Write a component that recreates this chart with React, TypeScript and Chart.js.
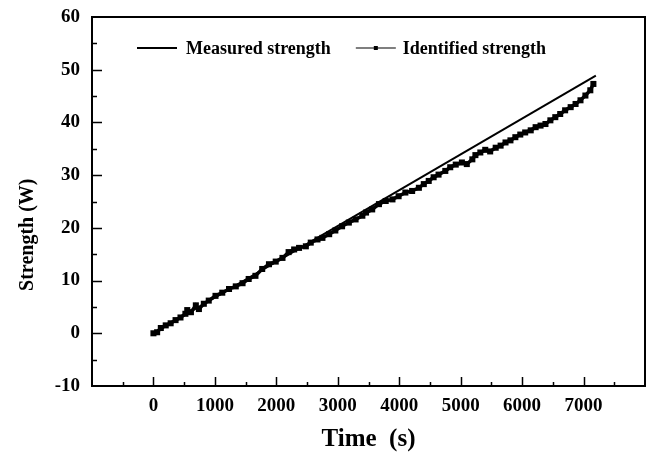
import React, { useEffect, useRef } from 'react';
import { Chart, registerables } from 'chart.js';

Chart.register(...registerables);

// ---- data ----
const measuredTime = [0, 7200];
const measuredStrength = [0, 48.9];

const identifiedTime = [
  0, 60, 120, 200, 280, 360, 440, 520, 550, 610, 690, 740, 820, 900, 1010, 1120, 1230, 1340,
  1450, 1550, 1660, 1770, 1880, 1990, 2100, 2200, 2290, 2370, 2480, 2560, 2670, 2750, 2860,
  2960, 3070, 3180, 3290, 3400, 3460, 3560, 3670, 3780, 3890, 3990, 4100, 4210, 4320, 4400,
  4480, 4560, 4640, 4750, 4830, 4920, 5020, 5100, 5190, 5240, 5320, 5400, 5480, 5570, 5650,
  5730, 5810, 5890, 5970, 6050, 6140, 6220, 6300, 6380, 6460, 6540, 6620, 6700, 6790, 6870,
  6950, 7030, 7110, 7160,
];
const identifiedStrength = [
  0, 0.2, 1.0, 1.5, 1.9, 2.5, 3.0, 3.7, 4.4, 4.0, 5.3, 4.6, 5.6, 6.2, 7.1, 7.7, 8.4, 8.9,
  9.5, 10.3, 10.9, 12.2, 13.1, 13.6, 14.3, 15.4, 15.9, 16.2, 16.5, 17.2, 17.8, 18.1, 18.8,
  19.5, 20.3, 21.0, 21.6, 22.3, 22.9, 23.5, 24.5, 25.1, 25.4, 26.0, 26.7, 27.0, 27.6, 28.3,
  28.9, 29.6, 30.1, 30.8, 31.5, 32.0, 32.4, 32.1, 33.0, 33.8, 34.3, 34.8, 34.5, 35.2, 35.6,
  36.2, 36.6, 37.2, 37.7, 38.1, 38.5, 39.1, 39.4, 39.7, 40.4, 41.0, 41.6, 42.3, 42.9, 43.5,
  44.2, 45.1, 46.1, 47.3,
];

const xLabelValues = [0, 1000, 2000, 3000, 4000, 5000, 6000, 7000];
const seriesNames = ['Measured strength', 'Identified strength'];
const xTitle = 'Time  (s)';
const yTitle = 'Strength (W)';

const X_MIN = -1000, X_MAX = 8000, X_STEP = 1000;
const Y_MIN = -10, Y_MAX = 60, Y_STEP = 10;

const FONT = "'Liberation Serif', 'Times New Roman', serif";

const framePlugin = {
  id: 'frameTicks',
  afterDraw(chart: any) {
    const { ctx, chartArea: a, scales } = chart;
    const xs = scales.x;
    const ys = scales.y;
    ctx.save();
    ctx.strokeStyle = '#000';
    ctx.lineWidth = 2;
    ctx.strokeRect(a.left, a.top, a.right - a.left, a.bottom - a.top);
    ctx.lineWidth = 1.5;
    ctx.beginPath();
    for (const t of xs.ticks) {
      const v = t.value;
      if (v > X_MIN && v < X_MAX) {
        const px = Math.round(xs.getPixelForValue(v)) + 0.5;
        ctx.moveTo(px, a.bottom);
        ctx.lineTo(px, a.bottom - 9);
      }
      const m = v + X_STEP / 2;
      if (m < X_MAX) {
        const px = Math.round(xs.getPixelForValue(m)) + 0.5;
        ctx.moveTo(px, a.bottom);
        ctx.lineTo(px, a.bottom - 4);
      }
    }
    for (const t of ys.ticks) {
      const v = t.value;
      if (v > Y_MIN && v < Y_MAX) {
        const py = Math.round(ys.getPixelForValue(v)) + 0.5;
        ctx.moveTo(a.left, py);
        ctx.lineTo(a.left + 10, py);
      }
      const m = v + Y_STEP / 2;
      if (m < Y_MAX) {
        const py = Math.round(ys.getPixelForValue(m)) + 0.5;
        ctx.moveTo(a.left, py);
        ctx.lineTo(a.left + 5, py);
      }
    }
    ctx.stroke();

    // y axis title
    ctx.fillStyle = '#000';
    ctx.font = `bold 20px ${FONT}`;
    ctx.textAlign = 'center';
    ctx.textBaseline = 'middle';
    ctx.translate(28, a.top + (a.bottom - a.top) * 0.59);
    ctx.rotate(-Math.PI / 2);
    ctx.fillText(yTitle, 0, 0);
    ctx.restore();

    // legend inside plot
    ctx.save();
    ctx.font = `bold 18px ${FONT}`;
    ctx.textBaseline = 'middle';
    ctx.textAlign = 'left';
    ctx.fillStyle = '#000';
    const ly = a.top + 31;
    let lx = a.left + 45;
    // item 1
    ctx.strokeStyle = '#000';
    ctx.lineWidth = 2;
    ctx.beginPath();
    ctx.moveTo(lx, ly);
    ctx.lineTo(lx + 40, ly);
    ctx.stroke();
    ctx.fillText(seriesNames[0], lx + 49, ly + 1);
    lx = lx + 49 + ctx.measureText(seriesNames[0]).width + 25;
    // item 2
    ctx.strokeStyle = '#555';
    ctx.lineWidth = 1.5;
    ctx.beginPath();
    ctx.moveTo(lx, ly);
    ctx.lineTo(lx + 40, ly);
    ctx.stroke();
    ctx.fillStyle = '#000';
    ctx.fillRect(lx + 18, ly - 2, 4, 4);
    ctx.fillText(seriesNames[1], lx + 47, ly + 1);
    ctx.restore();
  },
};

export default function App() {
  const ref = useRef<HTMLCanvasElement | null>(null);
  useEffect(() => {
    if (!ref.current) return;
    const measured = measuredTime.map((t, i) => ({ x: t, y: measuredStrength[i] }));
    const identified = identifiedTime.map((t, i) => ({ x: t, y: identifiedStrength[i] }));
    const chart = new Chart(ref.current, {
      type: 'line',
      data: {
        datasets: [
          {
            label: seriesNames[0],
            data: measured,
            borderColor: '#000',
            borderWidth: 2,
            pointRadius: 0,
            fill: false,
            tension: 0,
          },
          {
            label: seriesNames[1],
            data: identified,
            borderColor: '#000',
            backgroundColor: '#000',
            borderWidth: 3.5,
            pointStyle: 'rect',
            pointRadius: 1.8,
            pointBackgroundColor: '#000',
            pointBorderColor: '#000',
            fill: false,
            tension: 0,
          },
        ],
      },
      options: {
        responsive: false,
        animation: false,
        devicePixelRatio: 1,
        layout: { padding: { top: 17, right: 11, left: 0, bottom: 0 } },
        plugins: { legend: { display: false }, tooltip: { enabled: false } },
        scales: {
          x: {
            type: 'linear',
            min: X_MIN,
            max: X_MAX,
            grid: { display: false, drawTicks: false },
            border: { display: false },
            ticks: {
              stepSize: X_STEP,
              padding: 9,
              color: '#000',
              font: { family: FONT, size: 19, weight: 'bold' },
              maxRotation: 0,
              autoSkip: false,
              callback: (v: any) => (xLabelValues.includes(Number(v)) ? String(v) : ''),
            },
            title: {
              display: true,
              text: xTitle,
              color: '#000',
              font: { family: FONT, size: 25, weight: 'bold' },
              padding: { top: 0, bottom: 1 },
            },
            afterFit: (s: any) => {
              s.height = 70;
              s.paddingLeft = 0;
              s.paddingRight = 0;
            },
          },
          y: {
            type: 'linear',
            min: Y_MIN,
            max: Y_MAX,
            grid: { display: false, drawTicks: false },
            border: { display: false },
            ticks: {
              stepSize: Y_STEP,
              padding: 12,
              color: '#000',
              font: { family: FONT, size: 19, weight: 'bold' },
            },
            afterFit: (s: any) => {
              s.width = 92;
              s.paddingTop = 0;
              s.paddingBottom = 0;
            },
          },
        },
      },
      plugins: [framePlugin],
    } as any);
    return () => chart.destroy();
  }, []);
  return (
    <div style={{ position: 'absolute', left: 0, top: 0, width: 656, height: 456, background: '#fff' }}>
      <canvas ref={ref} width={656} height={456} />
    </div>
  );
}
